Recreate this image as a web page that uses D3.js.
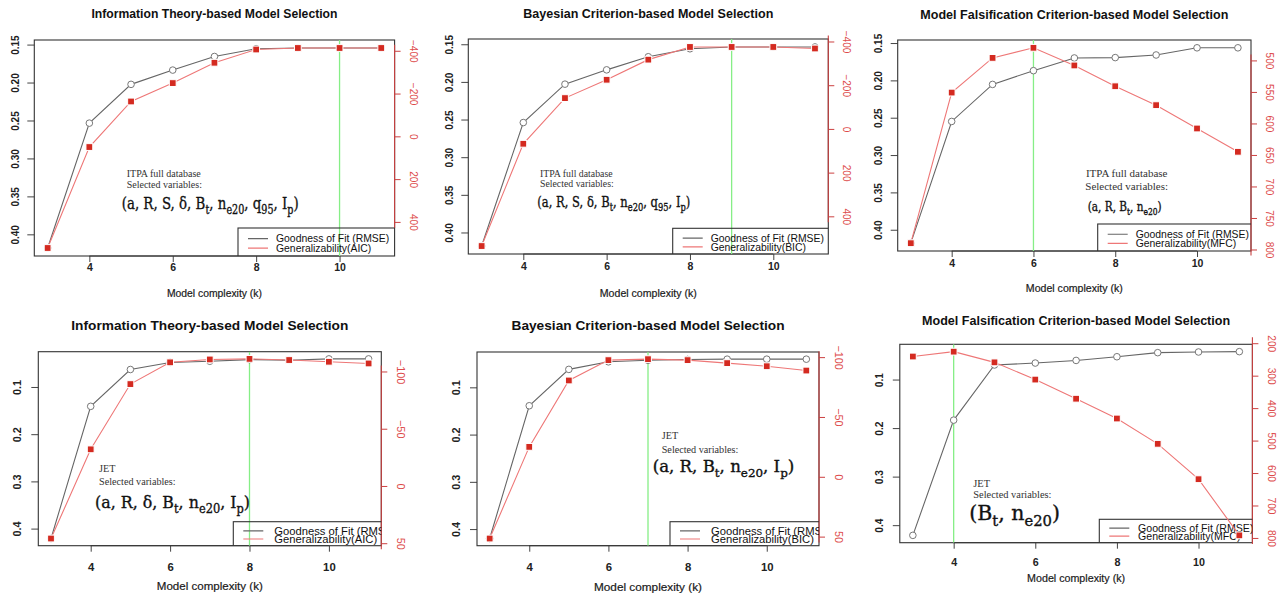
<!DOCTYPE html>
<html>
<head>
<meta charset="utf-8">
<script src="https://cdn.jsdelivr.net/npm/d3@7"></script>
<style>
  body { margin: 0; background: #fff; }
  svg { display: block; }
</style>
</head>
<body>
<svg id="fig" width="1282" height="596"></svg>
<script>
const ks = [3, 4, 5, 6, 7, 8, 9, 10, 11]
const xTicks = [4, 6, 8, 10]

// ITPA full database
const itpaRmseAic = [0.418, 0.2535, 0.2024, 0.1836, 0.1657, 0.1554, 0.1545, 0.1545, 0.1545]
const itpaAic = [522, 50, -163, -249, -344, -406, -413, -413, -413]
const itpaRmseBic = [0.418, 0.254, 0.203, 0.184, 0.1666, 0.156, 0.1536, 0.1536, 0.1536]
const itpaBic = [536, 68, -141, -225, -317, -375, -375, -375, -368]
const itpaRmseMfc = [0.418, 0.255, 0.2054, 0.187, 0.170, 0.1695, 0.166, 0.1564, 0.1564]
const itpaMfc = [790, 551, 496, 480, 508, 541, 571, 608, 645]

// JET
const jetRmseAic = [0.421, 0.141, 0.063, 0.048, 0.0455, 0.042, 0.0434, 0.0405, 0.0405]
const jetAic = [45.9, -32, -89, -108, -110.5, -111, -110, -108.5, -107]
const jetRmseBic = [0.42, 0.139, 0.062, 0.046, 0.0428, 0.041, 0.0404, 0.0404, 0.0404]
const jetBic = [51.6, -25, -80.5, -97.5, -98.3, -97.5, -95, -92.4, -88.8]
const jetRmseMfc = [0.421, 0.1836, 0.070, 0.066, 0.0606, 0.053, 0.0446, 0.0432, 0.0425]
const jetMfc = [241, 226, 259, 312, 371, 432, 510, 619, 792]

const bestK = [10, 9, 6, 8, 7, 4]

const titles = ['Information Theory-based Model Selection', 'Bayesian Criterion-based Model Selection',
  'Model Falsification Criterion-based Model Selection']
const criteria = ['AIC', 'BIC', 'MFC']
const datasets = ['ITPA full database', 'JET']

const rmseTicksItpa = [0.15, 0.20, 0.25, 0.30, 0.35, 0.40]
const rmseTicksJet = [0.1, 0.2, 0.3, 0.4]
const icTicksItpa = [-400, -200, 0, 200, 400]
const mfcTicksItpa = [500, 550, 600, 650, 700, 750, 800]
const icTicksJet = [-100, -50, 0, 50]
const mfcTicksJet = [200, 300, 400, 500, 600, 700, 800]

// selected variables: plain string or [base, subscript]
const varsItpaAic = ['a', 'R', 'S', 'δ', ['B', 't'], ['n', 'e20'], ['q', '95'], ['I', 'p']]
const varsItpaBic = ['a', 'R', 'S', 'δ', ['B', 't'], ['n', 'e20'], ['q', '95'], ['I', 'p']]
const varsItpaMfc = ['a', 'R', ['B', 't'], ['n', 'e20']]
const varsJetAic = ['a', 'R', 'δ', ['B', 't'], ['n', 'e20'], ['I', 'p']]
const varsJetBic = ['a', 'R', ['B', 't'], ['n', 'e20'], ['I', 'p']]
const varsJetMfc = [['B', 't'], ['n', 'e20']]

const panels = [
  {title: titles[0], crit: criteria[0], db: datasets[0], rmse: itpaRmseAic, gen: itpaAic, best: bestK[0],
    lt: rmseTicksItpa, lf: d3.format('.2f'), rt: icTicksItpa, vars: varsItpaAic},
  {title: titles[1], crit: criteria[1], db: datasets[0], rmse: itpaRmseBic, gen: itpaBic, best: bestK[1],
    lt: rmseTicksItpa, lf: d3.format('.2f'), rt: icTicksItpa, vars: varsItpaBic},
  {title: titles[2], crit: criteria[2], db: datasets[0], rmse: itpaRmseMfc, gen: itpaMfc, best: bestK[2],
    lt: rmseTicksItpa, lf: d3.format('.2f'), rt: mfcTicksItpa, vars: varsItpaMfc},
  {title: titles[0], crit: criteria[0], db: datasets[1], rmse: jetRmseAic, gen: jetAic, best: bestK[3],
    lt: rmseTicksJet, lf: d3.format('.1f'), rt: icTicksJet, vars: varsJetAic},
  {title: titles[1], crit: criteria[1], db: datasets[1], rmse: jetRmseBic, gen: jetBic, best: bestK[4],
    lt: rmseTicksJet, lf: d3.format('.1f'), rt: icTicksJet, vars: varsJetBic},
  {title: titles[2], crit: criteria[2], db: datasets[1], rmse: jetRmseMfc, gen: jetMfc, best: bestK[5],
    lt: rmseTicksJet, lf: d3.format('.1f'), rt: mfcTicksJet, vars: varsJetMfc},
]

// layout of each panel (pixels)
const layout = [
  {box: [34.3, 40, 394.6, 256], ty: 14, tw: 246, xly: 293, xlw: 95, xo: 11, lo: 15.5, ro: 15, fs: 1, lg: [238, 228],
    note: {x: 126.7, y1: 176.5, y2: 188.3, fx: 121.7, fy: 208.8, fz: 17, fw: 177, nz: 10, anchor: 'start'}},
  {box: [468.3, 39, 828.3, 254], ty: 14, tw: 250, xly: 293, xlw: 97, xo: 12, lo: 15.5, ro: 15, fs: 1, lg: [672.7, 228.3],
    note: {x: 540, y1: 176.5, y2: 186.6, fx: 537.3, fy: 206.5, fz: 15, fw: 153, nz: 9.8, anchor: 'start'}},
  {box: [897.7, 40, 1251, 251], ty: 14.3, tw: 308, xly: 288.7, xlw: 97, xo: 12.3, lo: 15.5, ro: 15, fs: 1, lg: [1097.7, 224],
    note: {x: 1126.7, y1: 177, y2: 190.4, fx: 1124.7, fy: 211, fz: 13, fw: 74, nz: 11, anchor: 'middle'}},
  {box: [38.3, 351.7, 381.3, 545.7], ty: 325, tw: 277, xly: 586, xlw: 106, xo: 21, lo: 17, ro: 16, fs: 1.08, lg: [233.3, 521.7],
    note: {x: 99, y1: 471.8, y2: 485.2, fx: 95, fy: 507.5, fz: 17, fw: 155, nz: 10.2, anchor: 'start'}},
  {box: [477, 352, 819, 545.7], ty: 325, tw: 273, xly: 587.3, xlw: 108, xo: 21, lo: 17, ro: 16, fs: 1.08, lg: [670, 521.7],
    note: {x: 661.7, y1: 438.5, y2: 452.5, fx: 652.7, fy: 472, fz: 16, fw: 141.6, nz: 10.2, anchor: 'start'}},
  {box: [899.8, 344.3, 1252.4, 542.7], ty: 320.7, tw: 308, xly: 578.3, xlw: 98, xo: 20, lo: 17, ro: 16, fs: 1.02, lg: [1099.3, 519.3],
    note: {x: 973.3, y1: 486.8, y2: 497.8, fx: 969.3, fy: 520, fz: 20, fw: 90.7, nz: 10.4, anchor: 'start'}},
]

const svg = d3.select('#fig')
const sans = 'Liberation Sans, Arial, sans-serif'
const serif = 'Liberation Serif, Times New Roman, serif'
const padded = ([a, b]) => [a - (b - a) * 0.04, b + (b - a) * 0.04]

function formula(g, vars, n) {
  const t = g.append('text')
    .attr('x', n.fx)
    .attr('y', n.fy)
    .attr('text-anchor', n.anchor)
    .attr('font-family', 'DejaVu Serif, serif')
    .attr('font-size', n.fz)
    .attr('fill', '#111')
    .attr('stroke', '#111').attr('stroke-width', 0.35)
  let shift = 0
  const put = (s, dy, size) => {
    const ts = t.append('tspan').text(s)
    if (dy) ts.attr('dy', dy)
    if (size) ts.attr('font-size', size)
  }
  put('(')
  vars.forEach((v, i) => {
    if (i > 0) { put(', ', shift ? -shift : 0); shift = 0 }
    if (Array.isArray(v)) {
      put(v[0])
      shift = n.fz * 0.3
      put(v[1], shift, n.fz * 0.72)
    } else put(v)
  })
  put(')', shift ? -shift : 0)
  t.attr('textLength', n.fw).attr('lengthAdjust', 'spacingAndGlyphs')
}

panels.forEach((p, i) => {
  const L = layout[i]
  const [l, t, r, b] = L.box
  const g = svg.append('g')

  const x = d3.scaleLinear().domain(padded([ks[0], ks[ks.length - 1]])).range([l, r])
  const yL = d3.scaleLinear().domain(padded(d3.extent(p.rmse))).range([t, b])
  const yR = d3.scaleLinear().domain(padded(d3.extent(p.gen))).range([t, b])

  const clipId = 'clip' + i
  svg.append('clipPath').attr('id', clipId)
    .append('rect').attr('x', l).attr('y', t).attr('width', r - l).attr('height', b - t)

  // title
  g.append('text')
    .attr('x', (l + r) / 2).attr('y', L.ty).attr('dy', '0.35em')
    .attr('text-anchor', 'middle')
    .attr('font-family', sans).attr('font-weight', 'bold').attr('font-size', 12 * L.fs)
    .attr('textLength', L.tw).attr('lengthAdjust', 'spacingAndGlyphs')
    .attr('fill', '#111')
    .text(p.title)

  // x label
  g.append('text')
    .attr('x', (l + r) / 2).attr('y', L.xly).attr('dy', '0.35em')
    .attr('text-anchor', 'middle')
    .attr('font-family', sans).attr('font-size', 10.5 * L.fs)
    .attr('textLength', L.xlw).attr('lengthAdjust', 'spacingAndGlyphs')
    .attr('fill', '#1a1a1a').attr('stroke', '#1a1a1a').attr('stroke-width', 0.2)
    .text('Model complexity (k)')

  // bottom axis
  const ax = g.append('g').attr('transform', `translate(0,${b})`)
    .call(d3.axisBottom(x).tickValues(xTicks).tickSize(6).tickSizeOuter(0))
  ax.select('.domain').remove()
  ax.selectAll('line').attr('stroke', '#444')
  ax.selectAll('text')
    .attr('y', L.xo).attr('dy', '0.35em')
    .attr('font-family', sans).attr('font-weight', 'bold').attr('font-size', 10.5 * L.fs).attr('fill', '#222')
  ax.append('line')
    .attr('x1', x(xTicks[0])).attr('x2', x(xTicks[xTicks.length - 1]))
    .attr('stroke', '#444')

  // left axis
  const al = g.append('g').attr('transform', `translate(${l},0)`)
    .call(d3.axisLeft(yL).tickValues(p.lt).tickFormat(p.lf).tickSize(7).tickSizeOuter(0))
  al.select('.domain').remove()
  al.selectAll('line').attr('stroke', '#444')
  al.selectAll('text')
    .attr('x', 0).attr('dy', 0).attr('y', -L.lo)
    .attr('transform', 'rotate(-90)').attr('text-anchor', 'middle')
    .attr('font-family', sans).attr('font-weight', 'bold').attr('font-size', 10 * L.fs).attr('fill', '#222')

  // plot box
  g.append('rect')
    .attr('x', l).attr('y', t).attr('width', r - l).attr('height', b - t)
    .attr('fill', 'none').attr('stroke', '#333').attr('stroke-width', 1.1)

  // right axis (generalizability)
  const ar = g.append('g').attr('transform', `translate(${r},0)`)
    .call(d3.axisRight(yR).tickValues(p.rt).tickFormat(d3.format('d')).tickSize(6).tickSizeOuter(0))
  ar.select('.domain').remove()
  ar.selectAll('line').attr('stroke', '#cc4040')
  ar.selectAll('text')
    .attr('x', 0).attr('dy', 0).attr('y', -L.ro)
    .attr('transform', 'rotate(90)').attr('text-anchor', 'middle')
    .attr('font-family', sans).attr('font-size', 10 * L.fs).attr('fill', '#dd4a4a')
  ar.append('line')
    .attr('y1', yR(p.rt[0]) - 6).attr('y2', yR(p.rt[p.rt.length - 1]) + 6)
    .attr('stroke', '#c84040').attr('stroke-width', 1.1)

  const inner = g.append('g').attr('clip-path', `url(#${clipId})`)

  // selected model
  inner.append('line')
    .attr('x1', x(p.best)).attr('x2', x(p.best)).attr('y1', t).attr('y2', b)
    .attr('stroke', '#86ee86').attr('stroke-width', 1.3)

  // annotation
  const n = L.note
  inner.append('text').attr('x', n.x).attr('y', n.y1).attr('text-anchor', n.anchor)
    .attr('font-family', serif).attr('font-size', n.nz).attr('fill', '#333').text(p.db)
  inner.append('text').attr('x', n.x).attr('y', n.y2).attr('text-anchor', n.anchor)
    .attr('font-family', serif).attr('font-size', n.nz).attr('fill', '#333').text('Selected variables:')
  formula(inner, p.vars, n)

  // legend
  const [lx, ly] = L.lg
  inner.append('rect').attr('x', lx).attr('y', ly).attr('width', r - lx + 2).attr('height', b - ly + 2)
    .attr('fill', 'none').attr('stroke', '#333').attr('stroke-width', 1.1)
  const lh = (b - ly)
  const legendItems = [['Goodness of Fit (RMSE)', '#666'], ['Generalizability(' + p.crit + ')', '#ee7777']]
  legendItems.forEach((d, j) => {
    const yy = ly + lh * (j === 0 ? 0.38 : 0.72)
    inner.append('line').attr('x1', lx + 10).attr('x2', lx + 30).attr('y1', yy).attr('y2', yy)
      .attr('stroke', d[1]).attr('stroke-width', 1.2)
    inner.append('text').attr('x', lx + 38 * L.fs).attr('y', yy).attr('dy', '0.36em')
      .attr('font-family', sans).attr('font-size', 10.4 * L.fs).attr('fill', '#111').text(d[0])
  })

  // series
  const lineR = d3.line().x((d, j) => x(ks[j])).y(d => yL(d))
  const lineG = d3.line().x((d, j) => x(ks[j])).y(d => yR(d))
  inner.append('path').attr('d', lineR(p.rmse)).attr('fill', 'none').attr('stroke', '#666').attr('stroke-width', 1.1)
  inner.selectAll('.pt-rmse').data(p.rmse).enter().append('circle')
    .attr('class', 'pt-rmse')
    .attr('cx', (d, j) => x(ks[j])).attr('cy', d => yL(d)).attr('r', 3.3)
    .attr('fill', '#fff').attr('stroke', '#777').attr('stroke-width', 1)
  inner.append('path').attr('d', lineG(p.gen)).attr('fill', 'none').attr('stroke', '#ee7777').attr('stroke-width', 1.1)
  inner.selectAll('.pt-gen').data(p.gen).enter().append('rect')
    .attr('class', 'pt-gen')
    .attr('x', (d, j) => x(ks[j]) - 3.4).attr('y', d => yR(d) - 3.4).attr('width', 6.8).attr('height', 6.8)
    .attr('fill', '#d42a20').attr('stroke', '#fff').attr('stroke-width', 1)
})
</script>
</body>
</html>
